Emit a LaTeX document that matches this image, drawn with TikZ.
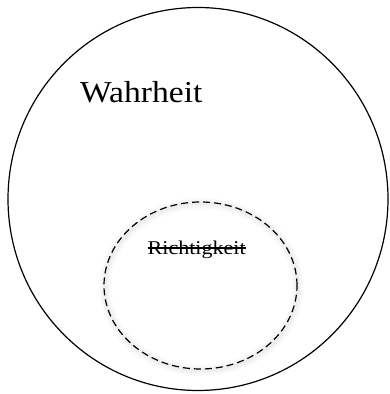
\documentclass[tikz,border=0pt]{standalone}
\usepackage{fontspec}
\setmainfont{Liberation Serif}
\usetikzlibrary{shapes.geometric}
\tikzset{
  bigset/.style={ellipse, draw=black, line width=1.2pt, inner sep=0pt,
    minimum width=380pt, minimum height=383pt},
  subset/.style={ellipse, draw=black, line width=1.2pt, inner sep=0pt,
    dash pattern=on 7pt off 4pt, minimum width=193pt, minimum height=167pt},
  glow/.style={ellipse, draw=black, inner sep=0pt, minimum width=193pt, minimum height=167pt},
  label/.style={inner sep=0pt, anchor=base west},
}
\begin{document}
\begin{tikzpicture}[x=1pt,y=1pt]
\useasboundingbox (0,0) rectangle (389,394);
\node[bigset] (outer) at (198,195) {};
% soft glow around the inner set
\foreach \w/\o in {12/0.012,9/0.015,6/0.018,3/0.02}{
  \node[glow, line width=\w pt, draw opacity=\o] at (201.5,107) {};
}
\node[subset] (inner) at (200.5,108.5) {};
\node[label] (wahr) at (80,291) {\fontsize{32}{36}\selectfont\scalebox{1.05}[0.95]{Wahrheit}};
\node[label] (richt) at (147.5,139) {\fontsize{19.5}{22}\selectfont\scalebox{1.13}[1]{Richtigkeit}};
\draw[line width=1.2pt] (richt.west |- 0,146) -- (richt.east |- 0,146);
\end{tikzpicture}
\end{document}
